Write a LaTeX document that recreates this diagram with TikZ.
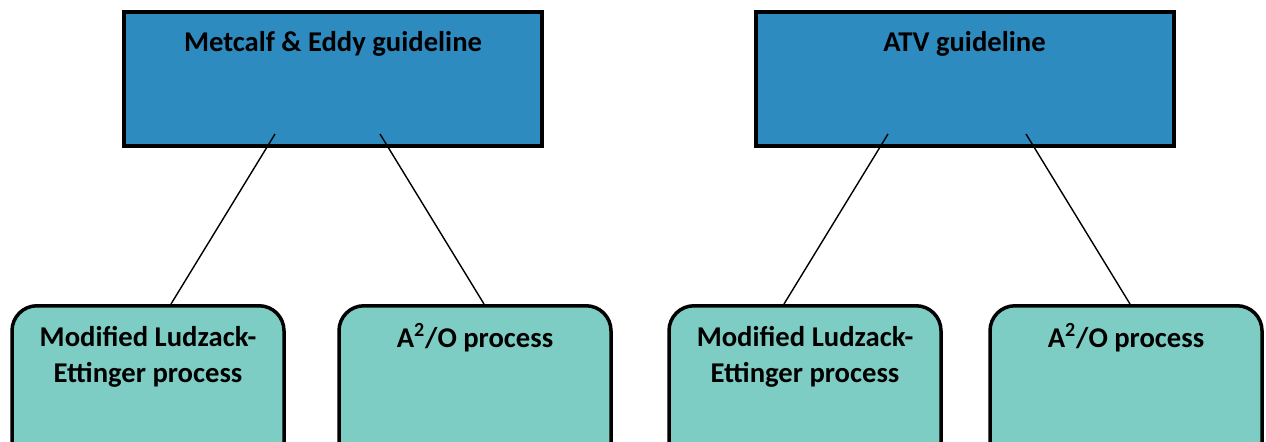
\documentclass[tikz,border=0pt]{standalone}
\usepackage{fontspec}
\setmainfont{Carlito}
\usepackage{tikz}

\definecolor{guideblue}{RGB}{46,139,192}
\definecolor{processteal}{RGB}{126,205,196}

\begin{document}
\begin{tikzpicture}[
  guidebox/.style={
    draw, line width=0.08cm, fill=guideblue, inner sep=0pt,
    minimum width=8.36cm, text height=0.78cm, text depth=1.90cm,
    font=\fontsize{16.3}{20}\selectfont\bfseries
  },
  procbox/.style={
    draw, line width=0.07cm, fill=processteal, rounded corners=0.5cm,
    inner sep=0pt, minimum width=5.44cm, minimum height=3.4cm,
    align=center, anchor=north, text height=0.84cm, text depth=2.56cm,
    font=\fontsize{16.3}{20.4}\selectfont\bfseries
  },
  twoline/.style={text height=1.54cm, text depth=1.86cm},
  link/.style={draw, line width=0.8pt}
]
\clip (0,0) rectangle (25.32,8.82);

% the two guidelines
\node[guidebox] (me) at (6.66,7.24) {Metcalf \& Eddy guideline};
\node[guidebox] (atv) at (19.29,7.24) {ATV guideline};

% processes under each guideline
\node[procbox, twoline] (meMLE) at (2.96,2.74) {Modified Ludzack-\\Ettinger process};
\node[procbox] (meAAO) at (9.50,2.74) {A\textsuperscript{2}/O process};
\node[procbox, twoline] (atvMLE) at (16.10,2.74) {Modified Ludzack-\\Ettinger process};
\node[procbox] (atvAAO) at (22.52,2.74) {A\textsuperscript{2}/O process};

\draw[link] ([shift={(-1.16,0.28)}]me.south) -- ([xshift=0.46cm]meMLE.north);
\draw[link] ([shift={(0.94,0.28)}]me.south) -- ([xshift=0.18cm]meAAO.north);
\draw[link] ([shift={(-1.53,0.28)}]atv.south) -- ([xshift=-0.42cm]atvMLE.north);
\draw[link] ([shift={(1.23,0.28)}]atv.south) -- ([xshift=0.08cm]atvAAO.north);

\end{tikzpicture}
\end{document}
